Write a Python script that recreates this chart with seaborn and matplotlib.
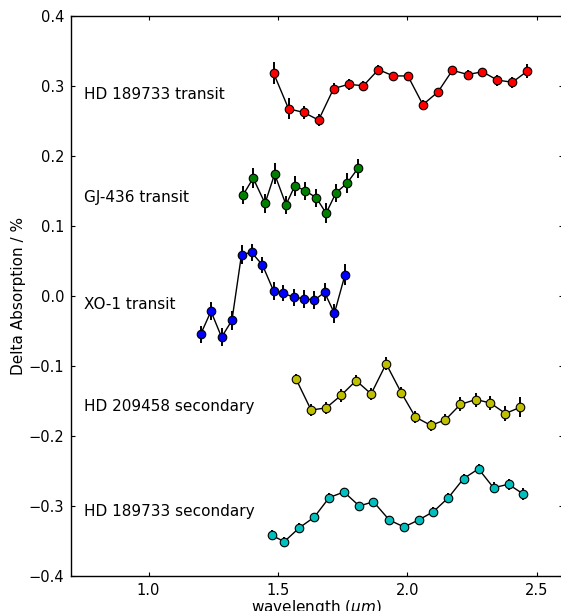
import matplotlib
matplotlib.use("Agg")
import matplotlib.pyplot as plt
import seaborn as sns
import pandas as pd

# ---- data ----
hd189_tr_x = [1.483, 1.541, 1.599, 1.657, 1.715, 1.773, 1.830, 1.888, 1.946,
              2.002, 2.060, 2.118, 2.174, 2.234, 2.290, 2.348, 2.406, 2.464]
hd189_tr_y = [0.318, 0.267, 0.262, 0.251, 0.296, 0.302, 0.300, 0.323, 0.314,
              0.314, 0.273, 0.291, 0.322, 0.316, 0.320, 0.308, 0.305, 0.321]
hd189_tr_e = [0.016, 0.015, 0.009, 0.008, 0.008, 0.008, 0.007, 0.006, 0.006,
              0.006, 0.006, 0.006, 0.006, 0.006, 0.006, 0.008, 0.008, 0.010]

gj436_x = [1.365, 1.404, 1.450, 1.487, 1.531, 1.565, 1.606, 1.648, 1.686,
           1.724, 1.767, 1.809]
gj436_y = [0.144, 0.168, 0.132, 0.174, 0.130, 0.157, 0.150, 0.140, 0.118,
           0.147, 0.161, 0.182]
gj436_e = [0.013, 0.014, 0.013, 0.015, 0.013, 0.014, 0.013, 0.013, 0.014,
           0.013, 0.014, 0.014]

xo1_x = [1.201, 1.241, 1.282, 1.322, 1.359, 1.398, 1.440, 1.483, 1.520,
         1.560, 1.600, 1.641, 1.680, 1.718, 1.759]
xo1_y = [-0.055, -0.022, -0.059, -0.035, 0.059, 0.062, 0.044, 0.007, 0.004,
         -0.002, -0.004, -0.006, 0.005, -0.025, 0.030]
xo1_e = [0.012, 0.013, 0.013, 0.014, 0.013, 0.012, 0.012, 0.013, 0.012,
         0.012, 0.013, 0.013, 0.013, 0.014, 0.015]

hd209_x = [1.570, 1.628, 1.686, 1.744, 1.802, 1.860, 1.918, 1.976, 2.031,
           2.091, 2.147, 2.205, 2.265, 2.321, 2.379, 2.437]
hd209_y = [-0.119, -0.163, -0.160, -0.142, -0.121, -0.140, -0.097, -0.138,
           -0.173, -0.185, -0.177, -0.155, -0.148, -0.153, -0.168, -0.159]
hd209_e = [0.007, 0.008, 0.008, 0.009, 0.008, 0.008, 0.009, 0.008,
           0.009, 0.008, 0.008, 0.010, 0.010, 0.010, 0.011, 0.014]

hd189_ec_x = [1.477, 1.524, 1.583, 1.640, 1.698, 1.755, 1.814, 1.869, 1.930,
              1.987, 2.044, 2.101, 2.159, 2.217, 2.275, 2.333, 2.391, 2.448]
hd189_ec_y = [-0.342, -0.351, -0.331, -0.316, -0.288, -0.280, -0.300, -0.294,
              -0.320, -0.330, -0.320, -0.308, -0.288, -0.261, -0.247, -0.274,
              -0.269, -0.283]
hd189_ec_e = [0.007, 0.007, 0.006, 0.006, 0.006, 0.006, 0.006, 0.006, 0.006,
              0.006, 0.006, 0.006, 0.006, 0.007, 0.007, 0.008, 0.008, 0.009]

labels = ["HD 189733 transit", "GJ-436 transit", "XO-1 transit",
          "HD 209458 secondary", "HD 189733 secondary"]
label_y = [0.287, 0.141, -0.012, -0.158, -0.308]
colors = ["#ff0000", "#008000", "#0000ff", "#bfbf00", "#00bfbf"]

series = [(hd189_tr_x, hd189_tr_y, hd189_tr_e),
          (gj436_x, gj436_y, gj436_e),
          (xo1_x, xo1_y, xo1_e),
          (hd209_x, hd209_y, hd209_e),
          (hd189_ec_x, hd189_ec_y, hd189_ec_e)]

# ---- figure ----
sns.set_style("white")
plt.rcParams["font.family"] = ["DejaVu Sans"]
plt.rcParams["text.color"] = "black"
plt.rcParams["axes.labelcolor"] = "black"
plt.rcParams["xtick.color"] = "black"
plt.rcParams["ytick.color"] = "black"

W, H = 561, 611
fig = plt.figure(figsize=(W / 100, H / 100), dpi=100)
ax = fig.add_axes([71 / W, 35 / H, 491.6 / W, 560.3 / H])

for (xs, ys, es), col, lab, ly in zip(series, colors, labels, label_y):
    df = pd.DataFrame({"x": xs, "y": ys})
    ax.errorbar(xs, ys, yerr=es, fmt="none", ecolor="black", elinewidth=1.4,
                capsize=0, zorder=2)
    sns.lineplot(data=df, x="x", y="y", ax=ax, color="black", linewidth=1.0,
                 sort=False, estimator=None, zorder=3)
    sns.scatterplot(data=df, x="x", y="y", ax=ax, color=col, s=38,
                    edgecolor="black", linewidth=0.8, zorder=4)
    ax.text(0.752, ly, lab, fontsize=11, va="center", ha="left", color="black")

ax.set_xlim(0.7, 2.6)
ax.set_ylim(-0.4, 0.4)
ax.set_xticks([1.0, 1.5, 2.0, 2.5])
ax.set_yticks([-0.4, -0.3, -0.2, -0.1, 0.0, 0.1, 0.2, 0.3, 0.4])
ax.set_xticklabels(["1.0", "1.5", "2.0", "2.5"])
ax.set_yticklabels(["\u22120.4", "\u22120.3", "\u22120.2", "\u22120.1", "0.0",
                    "0.1", "0.2", "0.3", "0.4"])
ax.tick_params(direction="in", length=3, width=0.8, labelsize=10.5,
               top=True, right=True, bottom=True, left=True, pad=5)
for s in ax.spines.values():
    s.set_linewidth(1.0)
    s.set_color("black")
ax.set_xlabel(r"wavelength ($\mu m$)", fontsize=11, labelpad=0)
ax.set_ylabel("Delta Absorption / %", fontsize=11, labelpad=2)

fig.savefig("out.png", dpi=100)
